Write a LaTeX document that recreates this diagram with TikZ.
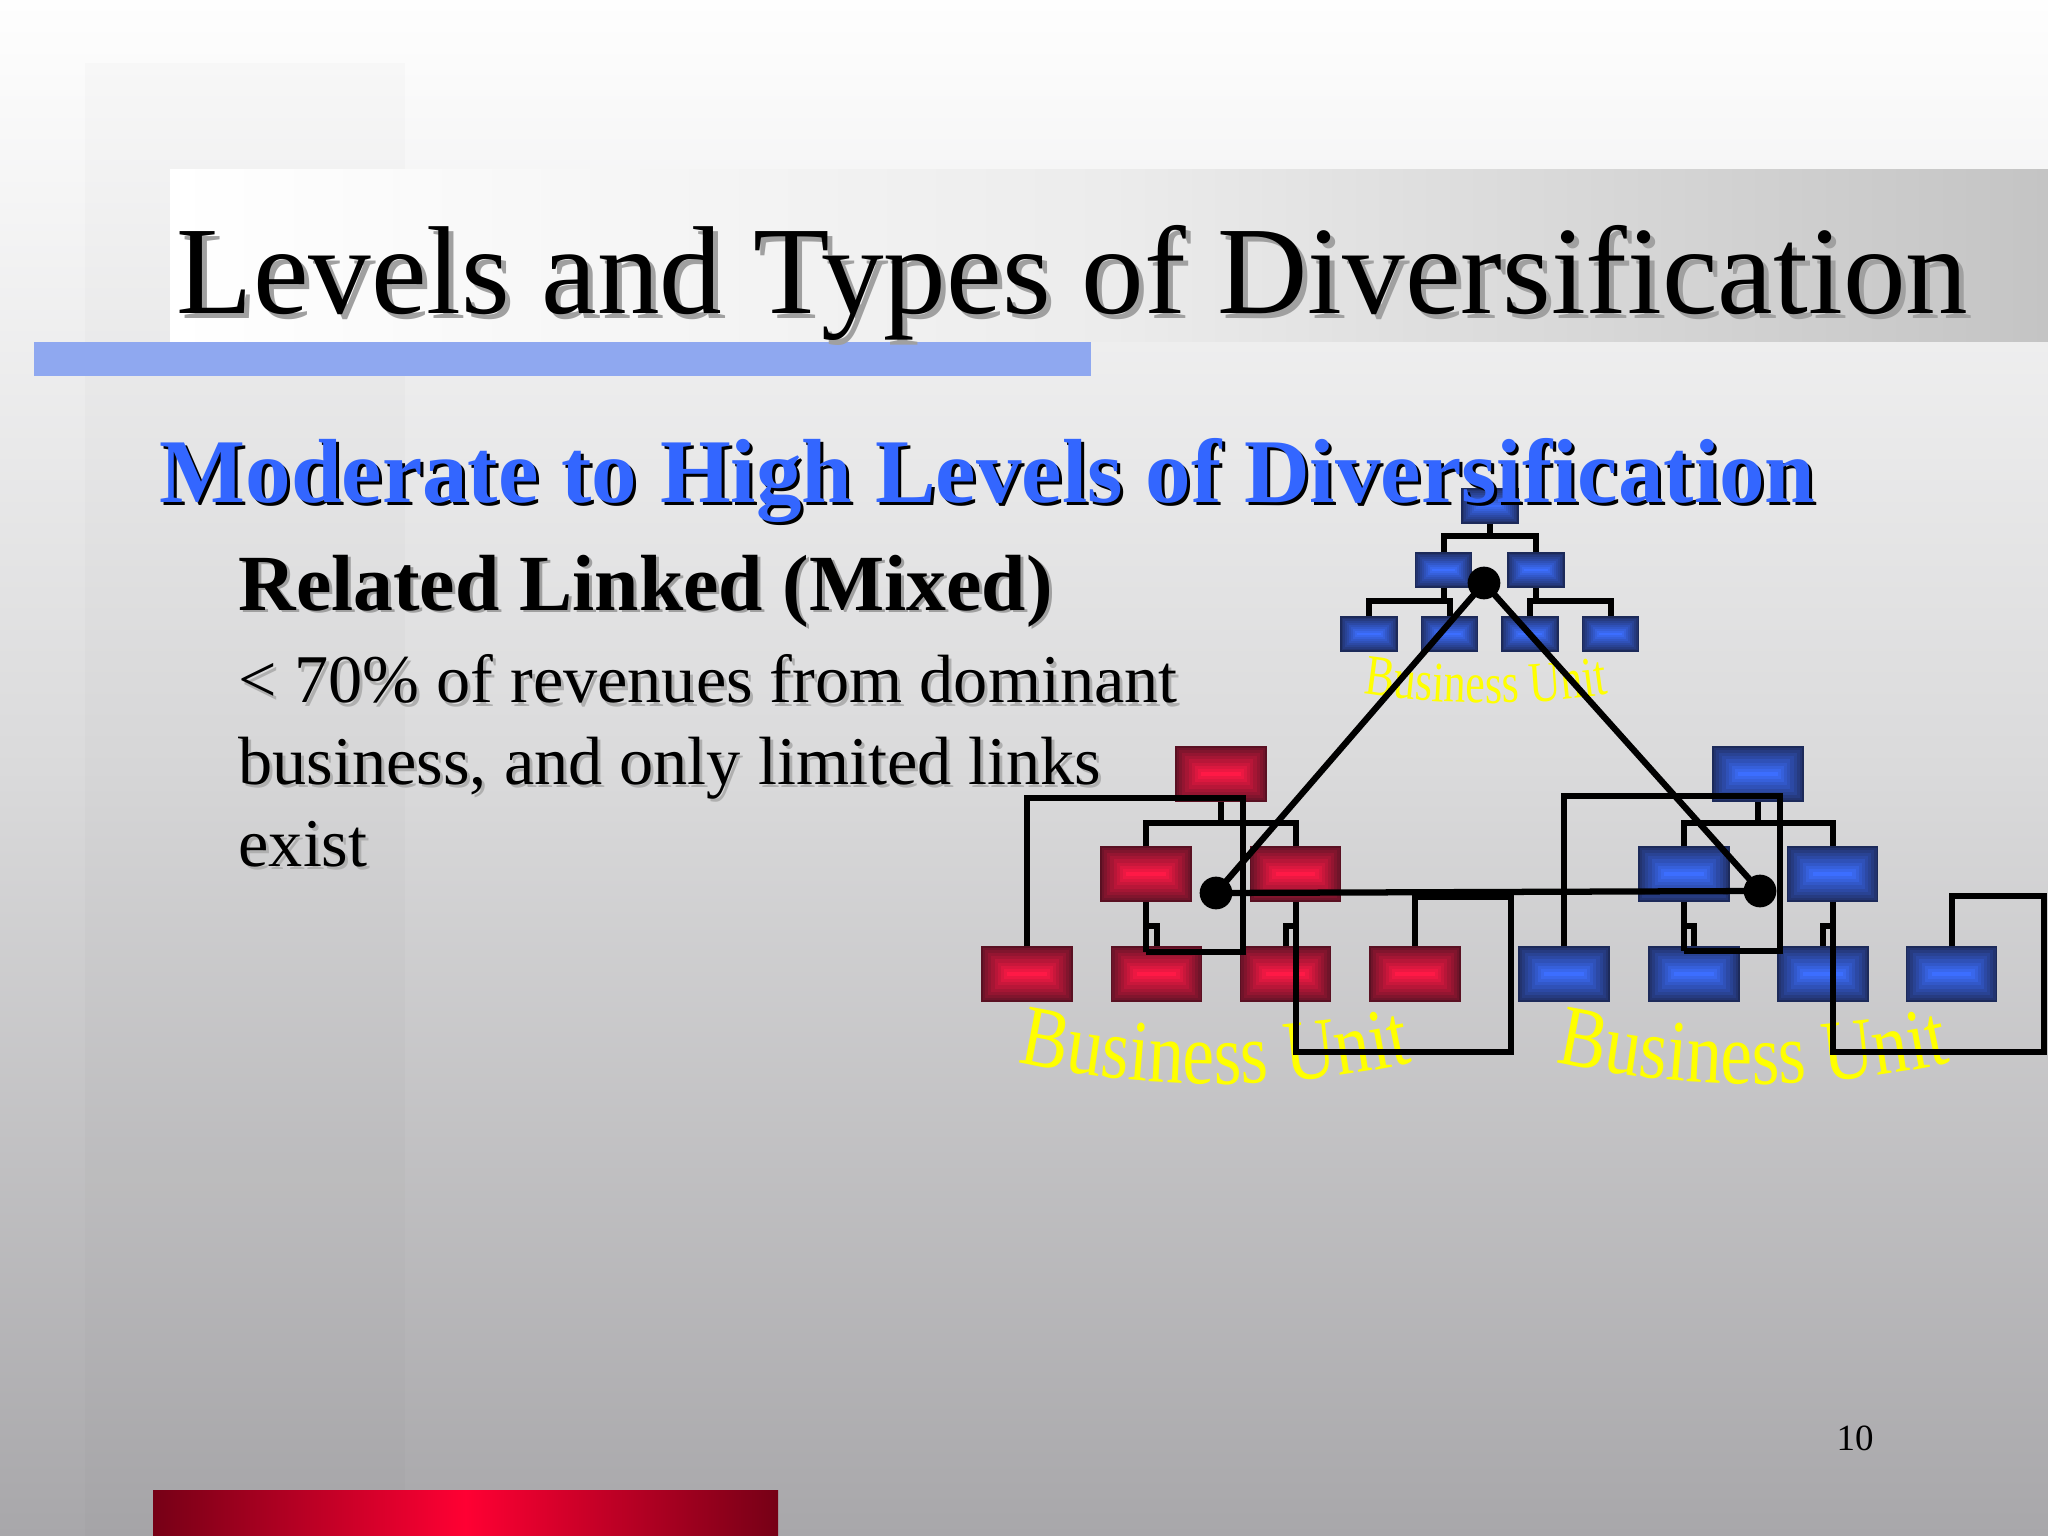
\documentclass[tikz,border=0pt]{standalone}
\usepackage{fontspec}
\setmainfont{Liberation Serif}
\usepackage{graphicx}
\definecolor{bgtop}{RGB}{254,254,254}
\definecolor{bgmid}{RGB}{218,218,219}
\definecolor{bgbot}{RGB}{168,167,170}
\definecolor{bandR}{RGB}{196,196,196}
\definecolor{bandM}{RGB}{236,236,236}
\definecolor{barblue}{RGB}{143,168,240}
\definecolor{subblue}{RGB}{51,102,255}
\definecolor{rdark}{RGB}{112,20,42}
\definecolor{rbright}{RGB}{255,25,70}
\definecolor{bdark}{RGB}{35,52,112}
\definecolor{bbright}{RGB}{60,110,255}
\definecolor{redD}{RGB}{118,0,22}
\definecolor{redB}{RGB}{255,0,51}
\definecolor{shgray}{RGB}{160,160,160}
\definecolor{shlight}{RGB}{175,175,175}
\definecolor{buy}{RGB}{255,255,0}

\tikzset{
  bev/.style n args={3}{rectangle, inner sep=0pt, draw=#1!80!black, line width=0.5pt,
    path picture={
      \foreach \k in {0,...,8}{
        \pgfmathtruncatemacro\p{\k*100/8}
        \fill[#2!\p!#1] ([shift={(\k*#3,\k*#3)}]path picture bounding box.south west) rectangle ([shift={(-\k*#3,-\k*#3)}]path picture bounding box.north east);
      }
    }},
  rbox/.style={bev={rdark}{rbright}{1.1pt}, minimum width=31.6pt, minimum height=19pt},
  bbox/.style={bev={bdark}{bbright}{1.1pt}, minimum width=31.6pt, minimum height=19pt},
  sbox/.style={bev={bdark}{bbright}{0.7pt}, minimum width=19.6pt, minimum height=12pt},
  conn/.style={line width=2.1pt},
  link/.style={line width=2.2pt},
  dot/.style={circle, fill=black, inner sep=0pt, minimum size=11.5pt},
  txt/.style={anchor=base west, inner sep=0pt},
}

% #1 name, #2 x0, #3 em(px), #4 xc, #5 ymid, #6 K, #7 yscale, #8 font size
\newcommand\arcword[8]{%
  \foreach \ch/\c [count=\i] in {B/333.5,u/917,s/1361.5,i/1695,n/2084,e/2556,s/2972.5,s/3361.5,U/4167,n/4778,i/5167,t/5445}{
    \pgfmathsetmacro\xx{#2+\c/1000*#3}
    \pgfmathsetmacro\dd{(\xx-#4)/100}
    \pgfmathsetmacro\yy{#5-\dd*\dd*#6}
    \pgfmathsetmacro\aa{atan(2*#6*\dd/100)}
    \node[anchor=base, inner sep=0pt, rotate=\aa, text=buy, font=\fontsize{#8}{#8}\selectfont] (#1-\i) at (\xx,\yy) {\scalebox{1}[#7]{\ch}};
  }%
}

\begin{document}
\begin{tikzpicture}[x=0.3515625pt,y=-0.3515625pt]
\useasboundingbox (0,0) rectangle (2048,1536);
% background
\shade[top color=bgtop, bottom color=bgbot, middle color=bgmid] (0,0) rectangle (2048,1536);
\fill[black, opacity=0.015] (85,63) rectangle (405,1536);
% title band
\shade[left color=white, right color=bandR, middle color=bandM] (170,170) rectangle (2048,342);
\fill[barblue] (34,342) rectangle (1091,376);
% bottom red bar
\shade[left color=redD, right color=redD, middle color=redB] (153,1490) rectangle (778,1536);

% title
\node[txt, text=shgray, font=\fontsize{44}{50}\selectfont] (titlesh) at (181,319) {Levels and Types of Diversification};
\node[txt, text=black, font=\fontsize{44}{50}\selectfont] (title) at (176,314) {Levels and Types of Diversification};

% body
\node[txt, text=shgray, font=\fontsize{28}{32}\selectfont\bfseries] (relsh) at (241,613) {Related Linked (Mixed)};
\node[txt, text=black, font=\fontsize{28}{32}\selectfont\bfseries] (rel) at (238,610) {Related Linked (Mixed)};
\node[txt, text=shlight, font=\fontsize{24}{28}\selectfont] (l1sh) at (241,706) {< 70\% of revenues from dominant};
\node[txt, text=black, font=\fontsize{24}{28}\selectfont] (l1) at (238,703) {< 70\% of revenues from dominant};
\node[txt, text=shlight, font=\fontsize{24}{28}\selectfont] (l2sh) at (241,787) {business, and only limited links};
\node[txt, text=black, font=\fontsize{24}{28}\selectfont] (l2) at (238,784) {business, and only limited links};
\node[txt, text=shlight, font=\fontsize{24}{28}\selectfont] (l3sh) at (241,869) {exist};
\node[txt, text=black, font=\fontsize{24}{28}\selectfont] (l3) at (238,866) {exist};

% page number
\node[anchor=base, inner sep=0pt, font=\fontsize{13}{15}\selectfont] (pg) at (1855,1450) {10};

% boxes: red cluster
\node[rbox] (r0) at (1221,774) {};
\node[rbox] (r1) at (1146,874) {};
\node[rbox] (r2) at (1295.5,874) {};
\node[rbox] (r3) at (1027,974) {};
\node[rbox] (r4) at (1156.5,974) {};
\node[rbox] (r5) at (1285.5,974) {};
\node[rbox] (r6) at (1415,974) {};
% blue cluster
\node[bbox] (b0) at (1758,774) {};
\node[bbox] (b1) at (1684,874) {};
\node[bbox] (b2) at (1832.5,874) {};
\node[bbox] (b3) at (1564,974) {};
\node[bbox] (b4) at (1694,974) {};
\node[bbox] (b5) at (1823,974) {};
\node[bbox] (b6) at (1951.5,974) {};
% top small cluster
\node[sbox] (t0) at (1490,506) {};
\node[sbox] (t1) at (1443.5,570) {};
\node[sbox] (t2) at (1536,570) {};
\node[sbox] (t3) at (1369,634) {};
\node[sbox] (t4) at (1449.5,634) {};
\node[sbox] (t5) at (1530,634) {};
\node[sbox] (t6) at (1610.5,634) {};

% yellow labels
\arcword{bur}{1017}{71}{1215}{1084}{5.5}{1.22}{25}
\arcword{bub}{1555}{71}{1753}{1084}{5.5}{1.22}{25}
\arcword{bus}{1363}{44}{1487}{703}{6}{1.3}{15.5}

% corner coordinates
\coordinate (rcorn) at (1243,798);
\coordinate (rbot) at (1146,952);
\coordinate (rlow) at (1511,1052);
\coordinate (rhook) at (1511,897);
\coordinate (bcorn) at (1780,796);
\coordinate (bbot) at (1684,951);
\coordinate (blow) at (2044,1052);
\coordinate (bhook) at (2044,896);

% connectors: red
\draw[conn] (r0.south) -- ++(0,23);
\draw[conn] (r1.north) -- ++(0,-23) -| (r2.north);
\draw[conn] (r3.north) |- (rcorn) |- (rbot);
\draw[conn] (r1.south) -- (rbot);
\draw[conn] (r1.south) ++(0,24) -| (r4.north);
\draw[conn] (r2.south) |- (rlow) -- (rhook) -| (r6.north);
\draw[conn] (r2.south) ++(0,24) -| (r5.north);
% connectors: blue
\draw[conn] (b0.south) -- ++(0,23);
\draw[conn] (b1.north) -- ++(0,-23) -| (b2.north);
\draw[conn] (b3.north) |- (bcorn) |- (bbot);
\draw[conn] (b1.south) -- (bbot);
\draw[conn] (b1.south) ++(0,24) -| (b4.north);
\draw[conn] (b2.south) |- (blow) -- (bhook) -| (b6.north);
\draw[conn] (b2.south) ++(0,24) -| (b5.north);
% connectors: top
\draw[conn] (t0.south) -- ++(0,14);
\draw[conn] (t1.north) -- ++(0,-16) -| (t2.north);
\draw[conn] (t1.south) -- ++(0,15);
\draw[conn] (t3.north) -- ++(0,-15) -| (t4.north);
\draw[conn] (t2.south) -- ++(0,15);
\draw[conn] (t5.north) -- ++(0,-15) -| (t6.north);

% dots and links
\node[dot] (dt) at (1484,583) {};
\node[dot] (dr) at (1216,893) {};
\node[dot] (db) at (1760,891) {};
\draw[link] (dt.center) -- (dr.center);
\draw[link] (dt.center) -- (db.center);
\draw[link] (dr.center) -- (db.center);

% subtitle (on top)
\node[txt, text=black, font=\fontsize{32}{36}\selectfont\bfseries] (subsh) at (162,506) {Moderate to High Levels of Diversification};
\node[txt, text=subblue, font=\fontsize{32}{36}\selectfont\bfseries] (sub) at (159,503) {Moderate to High Levels of Diversification};
\end{tikzpicture}
\end{document}
